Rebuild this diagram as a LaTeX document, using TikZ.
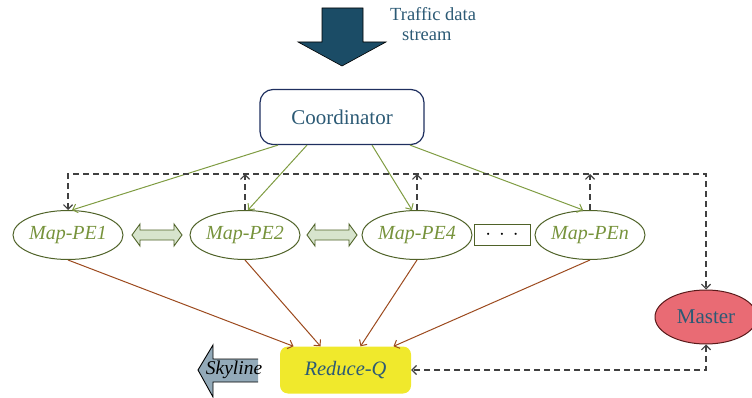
\documentclass[tikz,border=0pt]{standalone}
\usepackage{fontspec}
\setmainfont{Liberation Serif}
\usetikzlibrary{shapes.geometric,arrows.meta}
\definecolor{flowteal}{HTML}{1B4C66}
\definecolor{labelteal}{HTML}{2C5A75}
\definecolor{olivetxt}{HTML}{77933C}
\definecolor{oliveline}{HTML}{7F9C42}
\definecolor{olivedark}{HTML}{4F6228}
\definecolor{rustline}{HTML}{9C4A1E}
\definecolor{navyline}{HTML}{1F2F5F}
\definecolor{masterred}{HTML}{E96B74}
\definecolor{masteredge}{HTML}{5A1A1A}
\definecolor{reduceyellow}{HTML}{F0E92C}
\definecolor{swapgreen}{HTML}{D7E4CD}
\definecolor{skyblue}{HTML}{93AAB9}
\definecolor{dashgray}{HTML}{404040}
\begin{document}
\begin{tikzpicture}[x=1pt,y=-1pt,
  barb/.tip={Straight Barb[length=4.5pt,width=9pt]},
  pe/.style={ellipse,draw=olivedark,line width=1pt,minimum width=110pt,minimum height=49pt,inner sep=0pt,
    font=\fontsize{20}{22}\selectfont\itshape,text=olivetxt},
  feed/.style={draw=oliveline,line width=1pt,-barb},
  collect/.style={draw=rustline,line width=1pt,-barb},
  ctrl/.style={draw=dashgray,line width=1.2pt,dash pattern=on 6pt off 4pt,barb-barb},
  ctrlup/.style={draw=dashgray,line width=1.2pt,dash pattern=on 6pt off 4pt,-barb},
  dblarr/.pic={\draw[fill=swapgreen,draw=olivedark,line width=0.9pt]
    (-25,0) -- (-17,-11) -- (-17,-5) -- (17,-5) -- (17,-11) -- (25,0) -- (17,11) -- (17,5) -- (-17,5) -- (-17,11) -- cycle;}]
\useasboundingbox (0,0) rectangle (752,398);

% incoming data stream
\draw[fill=flowteal,draw=black,line width=0.6pt]
  (322,8) -- (363,8) -- (363,42) -- (386,42) -- (342,66) -- (298,42) -- (322,42) -- cycle;
\node[align=left,text=labelteal,font=\fontsize{18.5}{20}\selectfont,anchor=north west,inner sep=0pt]
  (streamlbl) at (390,7) {Traffic data\\\hspace*{12pt}stream};

% coordinator
\node[draw=navyline,line width=1.2pt,rounded corners=13pt,minimum width=164pt,minimum height=55pt,
  text=labelteal,font=\fontsize{21}{24}\selectfont] (coord) at (342,117) {Coordinator};

% map processing elements
\node[pe] (pe1) at (68,235) {Map-PE1};
\node[pe] (pe2) at (245,235) {Map-PE2};
\node[pe] (pe4) at (417,235) {Map-PE4};
\node[pe] (pen) at (590,235) {Map-PE\textit{n}};
\node[draw=olivedark,line width=1pt,minimum width=56pt,minimum height=21pt,inner sep=0pt,
  font=\fontsize{22}{24}\selectfont] (dots) at (502,234.5) {$\cdot\,\cdot\,\cdot$};

\pic at (157,235) {dblarr};
\pic at (332,235) {dblarr};

% master
\node[ellipse,draw=masteredge,line width=1pt,fill=masterred,minimum width=102pt,minimum height=54pt,
  inner sep=0pt,text=labelteal,font=\fontsize{21}{24}\selectfont] (master) at (706,317) {Master};

% reducer
\node[fill=reduceyellow,rounded corners=8pt,minimum width=131pt,minimum height=47pt,
  text=labelteal,font=\fontsize{20.5}{23}\selectfont\itshape] (reduce) at (345.5,370) {Reduce-Q};

% output arrow
\fill[skyblue] (198,370) -- (213,345) -- (213,359) -- (258,359) -- (258,382) -- (213,382) -- (213,397) -- cycle;
\draw[line width=0.9pt] (258,359) -- (213,359) -- (213,345) -- (198,370) -- (213,397) -- (213,382) -- (258,382);
\node[font=\fontsize{19.5}{22}\selectfont\itshape] (sky) at (234,370) {Skyline};

% coordinator feeds the map elements
\draw[feed] ([xshift=-64pt]coord.south) -- ([xshift=4pt]pe1.north);
\draw[feed] ([xshift=-35pt]coord.south) -- ([xshift=3pt]pe2.north);
\draw[feed] ([xshift=30pt]coord.south) -- ([xshift=-5pt]pe4.north);
\draw[feed] ([xshift=68pt]coord.south) -- ([xshift=-7pt]pen.north);

% map elements report to the reducer
\draw[collect] (pe1.south) -- ([xshift=-52pt]reduce.north);
\draw[collect] (pe2.south) -- ([xshift=-25pt]reduce.north);
\draw[collect] (pe4.south) -- ([xshift=15pt]reduce.north);
\draw[collect] (pen.south) -- ([xshift=48pt]reduce.north);

% control bus
\coordinate (busR) at (706,174);
\draw[ctrl] (pe1.north) |- (busR) -- (master.north);
\draw[ctrlup] (pe2.north) -- (pe2.north |- busR);
\draw[ctrlup] (pe4.north) -- (pe4.north |- busR);
\draw[ctrlup] (pen.north) -- (pen.north |- busR);
\draw[ctrl] (master.south) |- (reduce.east);
\end{tikzpicture}
\end{document}
